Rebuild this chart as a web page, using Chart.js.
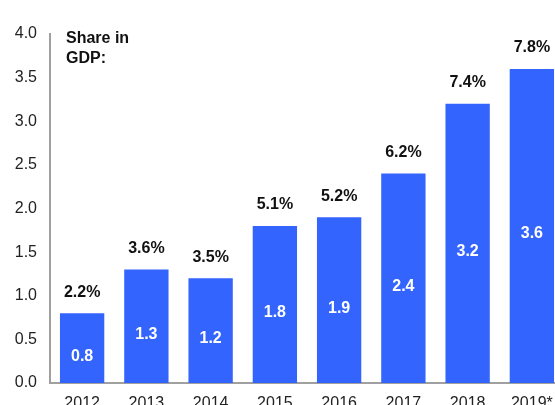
<!DOCTYPE html>
<html>
<head>
<meta charset="utf-8">
<script src="https://cdn.jsdelivr.net/npm/chart.js@4/dist/chart.umd.min.js"></script>
<style>
  html, body { margin: 0; padding: 0; background: #fff; overflow: hidden; }
  #wrap { position: absolute; left: 0; top: 0; width: 566px; height: 432px; }
</style>
</head>
<body>
<div id="wrap"><canvas id="c" width="566" height="432"></canvas></div>
<script>
// Annual values (bar heights) and their share in GDP
const years = ['2012', '2013', '2014', '2015', '2016', '2017', '2018', '2019*'];
const values = [0.8, 1.3, 1.2, 1.8, 1.9, 2.4, 3.2, 3.6];
const shareLabels = ['2.2%', '3.6%', '3.5%', '5.1%', '5.2%', '6.2%', '7.4%', '7.8%'];
const yTicks = [0, 0.5, 1.0, 1.5, 2.0, 2.5, 3.0, 3.5, 4.0];

const FONT = '"Liberation Sans", Arial, sans-serif';

// Draws the value inside each bar, the share above it, and the heading
const barLabels = {
  id: 'barLabels',
  afterDatasetsDraw(chart) {
    const ctx = chart.ctx;
    const meta = chart.getDatasetMeta(0);
    ctx.save();
    ctx.textAlign = 'center';
    ctx.textBaseline = 'middle';
    meta.data.forEach((bar, i) => {
      ctx.font = 'bold 16px ' + FONT;
      ctx.fillStyle = '#ffffff';
      ctx.fillText(values[i].toFixed(1), bar.x, (bar.y + bar.base) / 2 + 8);
      ctx.fillStyle = '#111111';
      ctx.fillText(shareLabels[i], bar.x, bar.y - 21);
    });
    ctx.textAlign = 'left';
    ctx.font = 'bold 16px ' + FONT;
    ctx.fillStyle = '#111111';
    ctx.fillText('Share in', 66, 39);
    ctx.fillText('GDP:', 66, 59);
    ctx.restore();
  }
};

new Chart(document.getElementById('c'), {
  type: 'bar',
  data: {
    labels: years,
    datasets: [{
      data: values,
      backgroundColor: '#3464FE',
      borderWidth: 0,
      barPercentage: 0.69,
      categoryPercentage: 1.0
    }]
  },
  options: {
    responsive: false,
    animation: false,
    events: [],
    layout: { padding: { top: 34, right: 2, left: 0, bottom: 0 } },
    plugins: {
      legend: { display: false },
      tooltip: { enabled: false }
    },
    scales: {
      x: {
        grid: { display: false, drawTicks: false },
        border: { display: true, color: '#a0a0a0', width: 2 },
        ticks: {
          color: '#222222',
          font: { family: FONT, size: 16 },
          padding: 11,
          maxRotation: 0,
          autoSkip: false
        },
        afterFit(scale) { scale.height = 49; }
      },
      y: {
        min: 0,
        max: 4.0,
        grid: { display: false, drawTicks: false },
        border: { display: true, color: '#a0a0a0', width: 2 },
        afterBuildTicks(scale) { scale.ticks = yTicks.map(v => ({ value: v })); },
        ticks: {
          color: '#222222',
          font: { family: FONT, size: 16 },
          padding: 13,
          callback: v => Number(v).toFixed(1)
        },
        afterFit(scale) { scale.width = 50; }
      }
    }
  },
  plugins: [barLabels]
});
</script>
</body>
</html>
